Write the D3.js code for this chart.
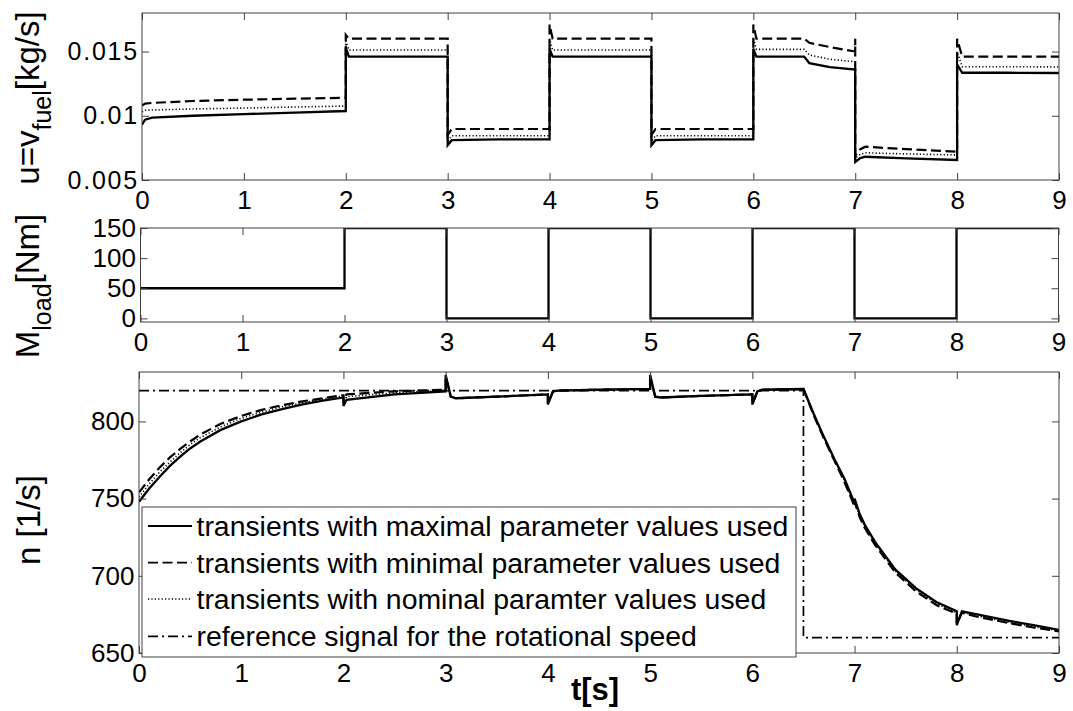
<!DOCTYPE html>
<html><head><meta charset="utf-8">
<script src="https://cdn.jsdelivr.net/npm/d3@7"></script>
<style>
body{margin:0;background:#fff}
svg{display:block}
text{font-family:"Liberation Sans",Arial,Helvetica,sans-serif;fill:#000}
</style>
</head><body>
<svg id="c" width="1073" height="711"></svg>
<script>
// ---------- DATA ----------
const xTicks = [0,1,2,3,4,5,6,7,8,9];
const uTicks = [0.005,0.01,0.015];
const uTickLabels = ["0.005","0.01","0.015"];
const mTicks = [0,50,100,150];
const nTicks = [650,700,750,800];

// top panel: fuel flow u = v_fuel [kg/s]
const tU = [0,0.03,0.1,0.5,1,1.5,2,2,2.03,2.5,3,3,3.04,3.5,4,4,4.03,4.5,5,5,5.04,5.5,6,6,6.03,6.5,6.55,6.75,7,7,7,7.05,7.1,7.5,8,8,8.05,8.5,9];
const uMax = [0.0093,0.0097,0.00985,0.0100,0.01013,0.01025,0.01037,0.0153,0.0146,0.0146,0.0146,0.0077,0.0081,0.00817,0.00817,0.0152,0.0146,0.0146,0.0146,0.0077,0.0081,0.00817,0.00817,0.0152,0.0146,0.0146,0.0141,0.01378,0.0136,0.0136,0.0064,0.0067,0.00681,0.00668,0.00656,0.0140,0.01335,0.01335,0.01333];
const uMin = [0.0108,0.01095,0.0110,0.01115,0.01125,0.01133,0.0114,0.0163,0.0160,0.0160,0.0160,0.0085,0.00897,0.00897,0.00897,0.0171,0.0160,0.0160,0.0160,0.0085,0.00897,0.00897,0.00897,0.0171,0.0160,0.0160,0.01568,0.01535,0.0150,0.0160,0.0069,0.0074,0.00759,0.0074,0.0072,0.0160,0.0146,0.0146,0.0146];
const uNom = [0.0103,0.01043,0.01045,0.01053,0.0106,0.01068,0.01076,0.0158,0.01512,0.01512,0.01512,0.0080,0.00845,0.00845,0.00845,0.0160,0.01512,0.01512,0.01512,0.0080,0.00845,0.00845,0.00845,0.0160,0.01517,0.01517,0.01473,0.0144,0.0142,0.0142,0.0067,0.0070,0.00712,0.00703,0.00695,0.0150,0.01382,0.01382,0.0138];

// middle panel: load torque [Nm]
const tLoad = [0,2,2,3,3,4,4,5,5,6,6,7,7,8,8,9];
const mLoad = [50,50,150,150,0,0,150,150,0,0,150,150,0,0,150,150];

// bottom panel: rotational speed n [1/s]
const tN = [0,0.1,0.2,0.3,0.4,0.5,0.6,0.8,1.0,1.2,1.4,1.6,1.8,2.0,2.0,2.03,2.5,3.0,3.0,3.05,3.1,3.5,4.0,4.0,4.05,4.1,4.5,5.0,5.0,5.05,5.1,5.5,6.0,6.0,6.05,6.1,6.5,6.6,6.7,6.8,6.9,7.0,7.0,7.05,7.1,7.2,7.4,7.6,7.8,8.0,8.0,8.05,8.2,8.5,8.75,9.0];
const nMax = [748,756.5,764,771,777,782.5,787,794.5,800,804.5,808,811,813.5,815.5,810,814,817.5,819.5,830,816,815,816,817.5,811,819.5,820,820.5,821,830,816,815.5,816.5,817.5,811,819.5,820.5,821,805,790,776,763,747,750,740,733,722,704,692,683,677,668,677,675,671,668,665];
const nMin = [754,762.5,770,776.5,782,787,791.5,798.5,803.5,807.5,810.5,813,815,817,813,817.5,819.5,820.5,829,816,815,816,817.5,811.5,819.5,820,820.5,821,829,816,815.5,816.5,817.5,811.5,819.5,820.5,821,804,789,775,761,745,748,738,731,720,702,690,681,675.5,669,676,673.5,669.5,666.5,664];
const nNom = [751,759.5,767,773.5,779.5,785,789.5,796.5,802,806,809.5,812,814.5,816.5,812,816,818.5,820,829.5,816,815,816,817.5,811,819.5,820,820.5,821,829.5,816,815.5,816.5,817.5,811,819.5,820.5,821,804.5,789.5,775.5,762,746,749,739,732,721,703,691,682,676,668.5,676.5,674,670,667,664.5];
const tRef = [0,6.5,6.5,9];
const nRef = [820,820,660,660];

const legendLabels = [
  "transients with maximal parameter values used",
  "transients with minimal parameter values used",
  "transients with nominal paramter values used",
  "reference signal for the rotational speed"
];

// ---------- DRAWING ----------
const svg = d3.select("#c");
const AX = "#404040";
const styles = {
  max: {w: 2.3, dash: null},
  min: {w: 2.2, dash: "10,4.5"},
  nom: {w: 1.6, dash: "1.2,2.2"},
  ref: {w: 1.7, dash: "10,4,2,4"}
};

function panel(cfg){
  const x = d3.scaleLinear().domain([0,9]).range([cfg.left, cfg.right]);
  const y = d3.scaleLinear().domain(cfg.ydom).range([cfg.bottom, cfg.top]);
  const g = svg.append("g");
  const id = "clip" + cfg.name;
  svg.append("clipPath").attr("id", id).append("rect")
    .attr("x", cfg.left).attr("y", cfg.top)
    .attr("width", cfg.right - cfg.left).attr("height", cfg.bottom - cfg.top);

  const lines = g.append("g").attr("clip-path", `url(#${id})`);
  cfg.series.forEach(s => {
    const pts = s.t.map((t,i) => [t, s.v[i]]);
    const ln = d3.line().x(d => x(d[0])).y(d => y(d[1]));
    const st = styles[s.style];
    lines.append("path").attr("d", ln(pts))
      .attr("fill","none").attr("stroke","#000")
      .attr("stroke-width", st.w)
      .attr("stroke-dasharray", st.dash)
      .attr("stroke-linejoin","miter");
  });

  const fmtClean = g => { g.select(".domain").remove(); g.selectAll(".tick line").attr("stroke", AX); };
  g.append("g").attr("transform",`translate(0,${cfg.bottom})`)
    .call(d3.axisBottom(x).tickValues(xTicks).tickFormat(d3.format("d")).tickSize(-7).tickPadding(10.5))
    .call(fmtClean)
    .call(a => a.selectAll("text").style("font-size","26px").attr("fill","#000"));
  g.append("g").attr("transform",`translate(0,${cfg.top})`)
    .call(d3.axisTop(x).tickValues(xTicks).tickFormat("").tickSize(-7))
    .call(fmtClean);
  g.append("g").attr("transform",`translate(${cfg.left},0)`)
    .call(d3.axisLeft(y).tickValues(cfg.yticks).tickFormat((d,i) => cfg.ylabels ? cfg.ylabels[i] : d).tickSize(-7).tickPadding(cfg.ypad))
    .call(fmtClean)
    .call(a => a.selectAll("text").style("font-size", cfg.yfont).style("letter-spacing", cfg.yspacing || "0px").attr("fill","#000"));
  g.append("g").attr("transform",`translate(${cfg.right},0)`)
    .call(d3.axisRight(y).tickValues(cfg.yticks).tickFormat("").tickSize(-7))
    .call(fmtClean);

  g.append("rect").attr("x", cfg.left).attr("y", cfg.top)
    .attr("width", cfg.right - cfg.left).attr("height", cfg.bottom - cfg.top)
    .attr("fill","none").attr("stroke", AX).attr("stroke-width", 1);
  return {x, y, g};
}

panel({name:"u", left:142, right:1059, top:13, bottom:180, ydom:[0.005,0.018],
  yticks: uTicks, ylabels: uTickLabels, yfont: "25px", yspacing: "1.8px", ypad: 3,
  series:[{t:tU, v:uNom, style:"nom"},{t:tU, v:uMin, style:"min"},{t:tU, v:uMax, style:"max"}]});

panel({name:"m", left:140.5, right:1058.5, top:228, bottom:322, ydom:[-6,150],
  yticks: mTicks, yfont: "26px", ypad: 4.5,
  series:[{t:tLoad, v:mLoad, style:"max"}]});

panel({name:"n", left:139, right:1059, top:372, bottom:653, ydom:[650,832],
  yticks: nTicks, yfont: "26px", ypad: 4.5,
  series:[{t:tN, v:nNom, style:"nom"},{t:tN, v:nMin, style:"min"},{t:tN, v:nMax, style:"max"},{t:tRef, v:nRef, style:"ref"}]});

// y-axis labels (rotated)
function ylab(x, yc, parts){
  const t = svg.append("text").attr("transform",`translate(${x},${yc}) rotate(-90)`)
    .attr("text-anchor","middle").style("font-size","33px");
  parts.forEach(p => {
    const ts = t.append("tspan").text(p.s);
    if (p.sub) ts.style("font-size","25px").attr("dy", 12);
    if (p.back) ts.attr("dy", -12);
  });
}
ylab(39, 98, [{s:"u=v"},{s:"fuel", sub:true},{s:"[kg/s]", back:true}]);
ylab(39, 286, [{s:"M"},{s:"load", sub:true},{s:"[Nm]", back:true}]);
ylab(40, 520, [{s:"n [1/s]"}]);

// x label
svg.append("text").attr("x",595).attr("y",700).attr("text-anchor","middle")
  .style("font-size","31px").style("font-weight","bold").text("t[s]");

// legend
const lg = svg.append("g");
lg.append("rect").attr("x",142).attr("y",507).attr("width",654).attr("height",150)
  .attr("fill","#fff").attr("stroke",AX).attr("stroke-width",1);
const legStyles = ["max","min","nom","ref"];
const rowBase = [536, 572.7, 609, 646.3];
legendLabels.forEach((lab,i) => {
  const st = styles[legStyles[i]];
  lg.append("line").attr("x1",148).attr("x2",192)
    .attr("y1",rowBase[i]-10).attr("y2",rowBase[i]-10)
    .attr("stroke","#000").attr("stroke-width", Math.min(st.w,1.8))
    .attr("stroke-dasharray", st.dash);
  lg.append("text").attr("x",196.5).attr("y",rowBase[i]).style("font-size","28.4px").text(lab);
});
</script>
</body></html>
